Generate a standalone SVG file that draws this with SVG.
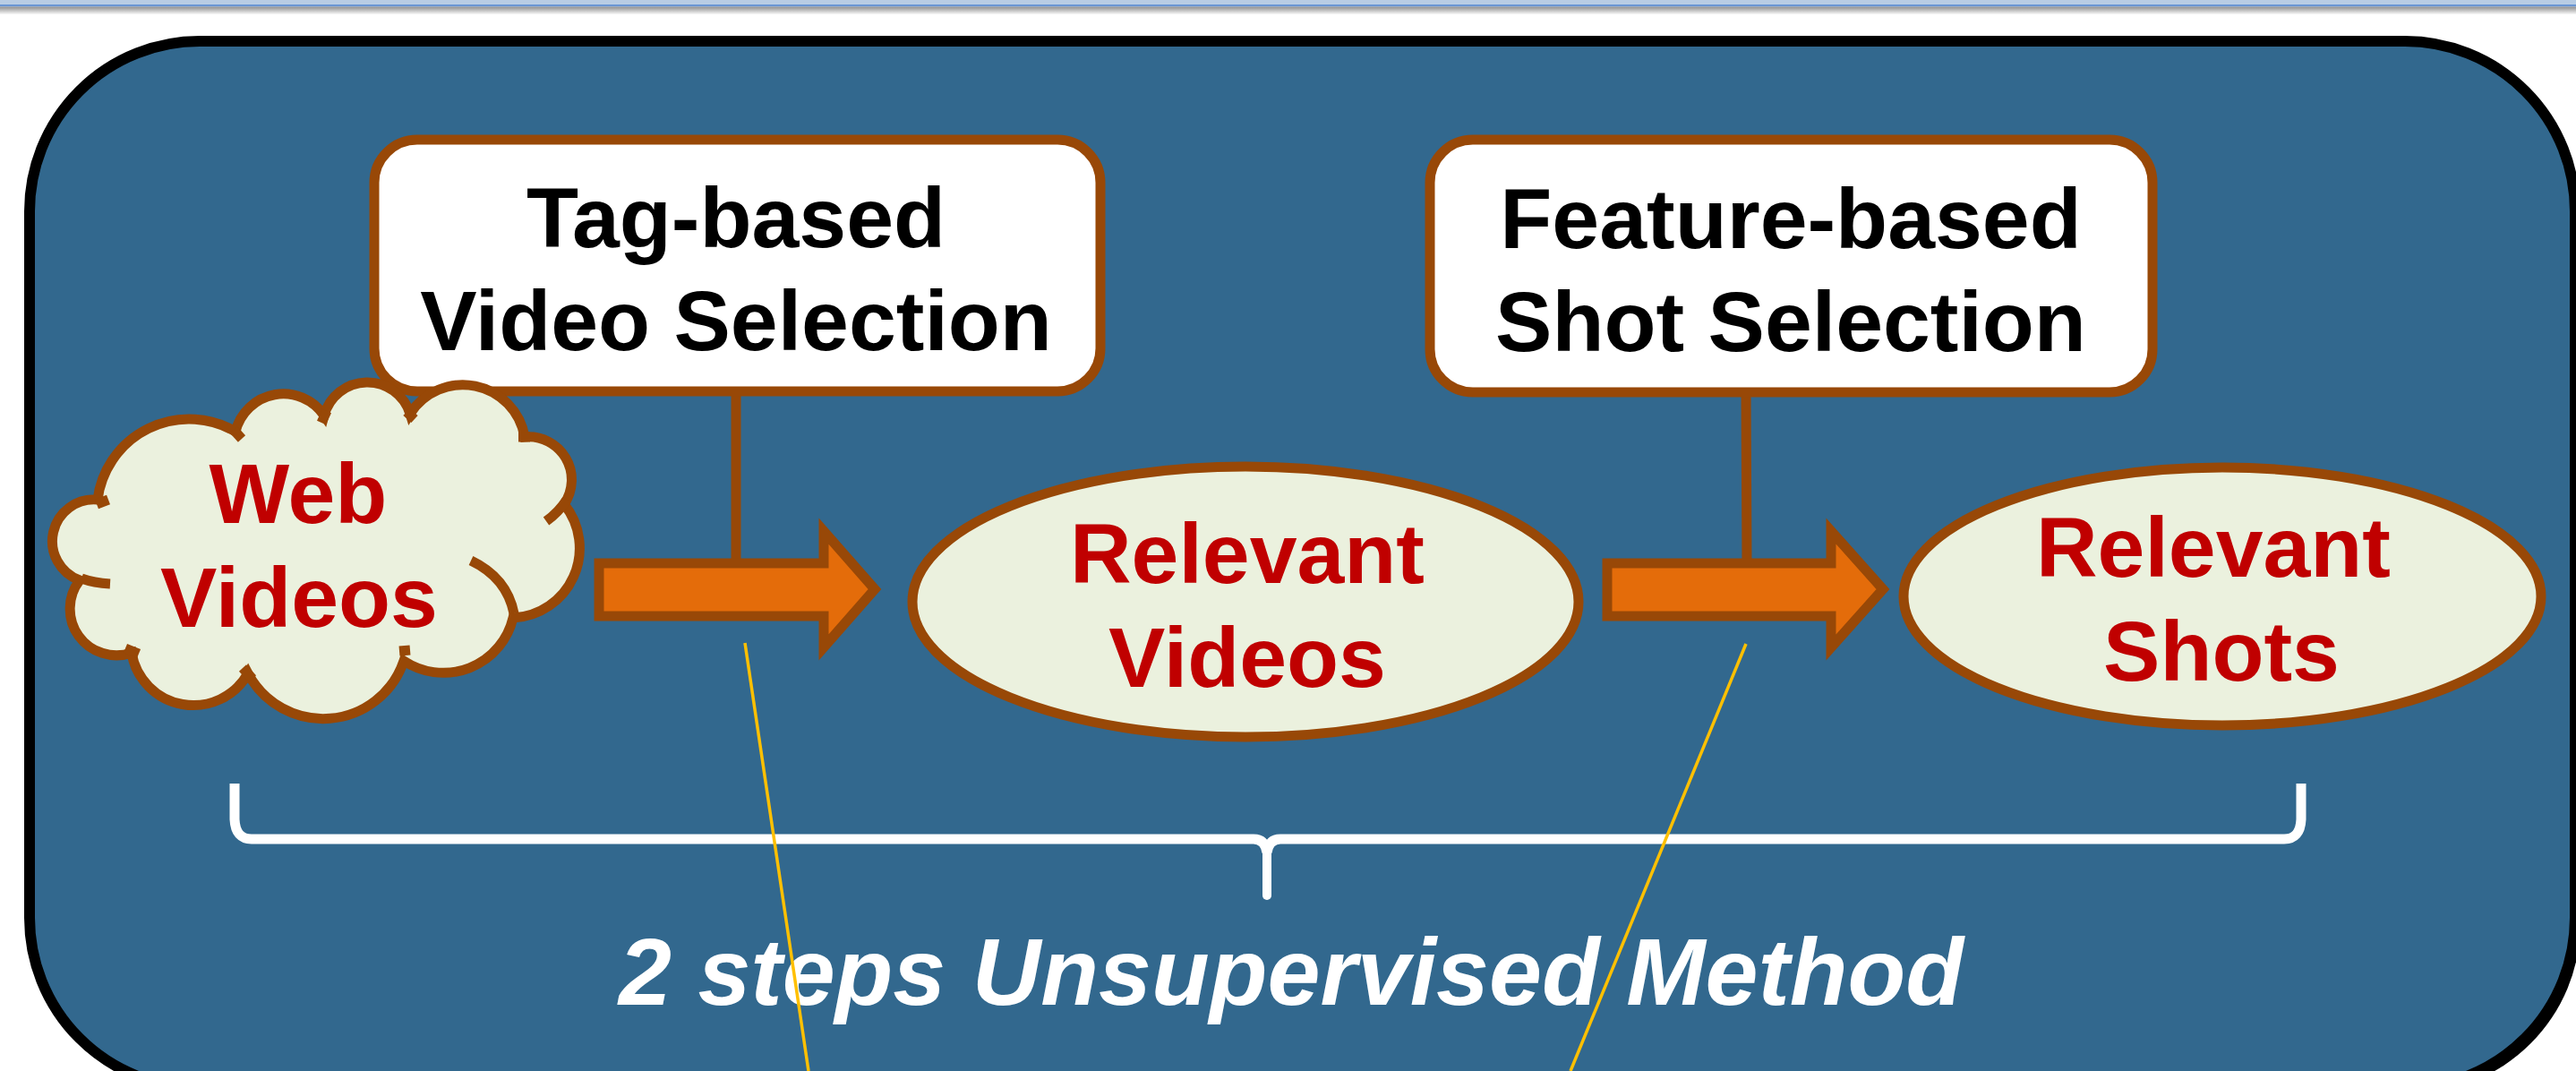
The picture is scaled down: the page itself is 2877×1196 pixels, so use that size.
<svg xmlns="http://www.w3.org/2000/svg" width="2877" height="1196" viewBox="0 0 2877 1196">
  <defs>
    <linearGradient id="bandShade" x1="0" y1="0" x2="0" y2="1">
      <stop offset="0" stop-color="#8e8e8e"/>
      <stop offset="1" stop-color="#ffffff"/>
    </linearGradient>
    <style>
      .frame{fill:#32688e;stroke:#000;stroke-width:12}
      .box{fill:#ffffff;stroke:#984807;stroke-width:11}
      .blob{fill:#ebf1de;stroke:#984807;stroke-width:11}
      .tick{fill:none;stroke:#984807;stroke-width:11}
      .stem{stroke:#984807;stroke-width:11}
      .step{fill:#e46c0a;stroke:#984807;stroke-width:11;stroke-linejoin:miter;stroke-miterlimit:10}
      .lead{stroke:#ffc000;stroke-width:3.5}
      .brace{fill:none;stroke:#ffffff;stroke-width:11}
      .t{font-family:"Liberation Sans",Arial,Helvetica,sans-serif;font-weight:bold;font-size:95px;text-anchor:middle}
      .dark{fill:#000000}
      .red{fill:#c00000}
      .cap{font-family:"Liberation Sans",Arial,Helvetica,sans-serif;font-weight:bold;font-style:italic;font-size:106px;text-anchor:middle;fill:#ffffff}
    </style>
  </defs>

  <!-- page background and top band -->
  <rect x="0" y="0" width="2877" height="1196" fill="#ffffff"/>
  <rect x="0" y="0" width="2877" height="5" fill="#b8cce4"/>
  <rect x="0" y="5" width="2877" height="2.5" fill="#6a96d4"/>
  <rect x="0" y="7.5" width="2877" height="9" fill="url(#bandShade)"/>

  <!-- main rounded panel with its shadow -->
  <rect x="39" y="52" width="2843" height="1169" rx="190" ry="190" fill="#000000"/>
  <rect class="frame" x="33" y="46" width="2843" height="1169" rx="190" ry="190"/>

  <!-- brace under the pipeline -->
  <g id="brace">
    <path class="brace" d="M262,875 L262,915 Q263,937 281,937 L1400,937 Q1413,937 1415,952"/>
    <path class="brace" d="M2570,875 L2570,915 Q2569,937 2551,937 L1430,937 Q1417,937 1415,952"/>
    <line x1="1415" y1="950" x2="1415" y2="1000" stroke="#ffffff" stroke-width="10" stroke-linecap="round"/>
  </g>

  <text id="caption" class="cap" x="1442" y="1122">2 steps Unsupervised Method</text>

  <!-- connectors: stems from the method boxes and the block arrows -->
  <g id="connectors">
    <line class="stem" x1="822" y1="437" x2="822" y2="630"/>
    <line class="stem" x1="1950" y1="438" x2="1951" y2="630"/>
    <polygon class="step" points="669,629 920,629 920,593 977,658 920,723 920,688 669,688"/>
    <polygon class="step" points="1795,629 2045,629 2045,593 2103,658 2045,723 2045,688 1795,688"/>
  </g>

  <!-- method boxes -->
  <g id="tag-selection">
    <rect class="box" x="418" y="156" width="811" height="281" rx="48" ry="48"/>
    <text class="t dark" x="822" y="276">Tag-based</text>
    <text class="t dark" x="822" y="391">Video Selection</text>
  </g>

  <g id="feature-selection">
    <rect class="box" x="1597" y="156" width="807" height="282" rx="48" ry="48"/>
    <text class="t dark" x="2000" y="277">Feature-based</text>
    <text class="t dark" x="2000" y="392">Shot Selection</text>
  </g>

  <!-- data nodes -->
  <g id="web-videos">
    <path class="blob" d="M109,558 A103,103 0 0 1 263,482 A55,55 0 0 1 362,464 A50,50 0 0 1 458,462 A70,70 0 0 1 586,488 A48,48 0 0 1 630,563 A78,78 0 0 1 573,690 A80,80 0 0 1 451,738 A95,95 0 0 1 277,752 A70,70 0 0 1 147,729 A52,52 0 0 1 89,648 A46.5,46.5 0 0 1 109,558 Z"/>
    <path class="tick" d="M108,563 L121,558"/>
    <path class="tick" d="M261,480 L270,490"/>
    <path class="tick" d="M359,472 L365,459"/>
    <path class="tick" d="M454,460 L463,468"/>
    <path class="tick" d="M579,488 L592,488"/>
    <path class="tick" d="M610,582 Q624,572 633,558"/>
    <path class="tick" d="M526,626 Q566,645 574,685"/>
    <path class="tick" d="M446,727 L458,726"/>
    <path class="tick" d="M271,746 L282,758"/>
    <path class="tick" d="M140,724 L155,730"/>
    <path class="tick" d="M91,646 Q105,651 123,652"/>
    <text class="t red" x="333" y="584">Web</text>
    <text class="t red" x="334" y="700">Videos</text>
  </g>

  <g id="relevant-videos">
    <ellipse class="blob" cx="1391" cy="672" rx="372" ry="151"/>
    <text class="t red" x="1393" y="651">Relevant</text>
    <text class="t red" x="1393" y="767">Videos</text>
  </g>

  <g id="relevant-shots">
    <ellipse class="blob" cx="2482" cy="666" rx="356" ry="144"/>
    <text class="t red" x="2472" y="644">Relevant</text>
    <text class="t red" x="2481" y="760">Shots</text>
  </g>

  <!-- thin leader lines running below the arrows -->
  <g id="leaders">
    <line class="lead" x1="832" y1="718" x2="903" y2="1196"/>
    <line class="lead" x1="1950" y1="719" x2="1754" y2="1196"/>
  </g>
</svg>
